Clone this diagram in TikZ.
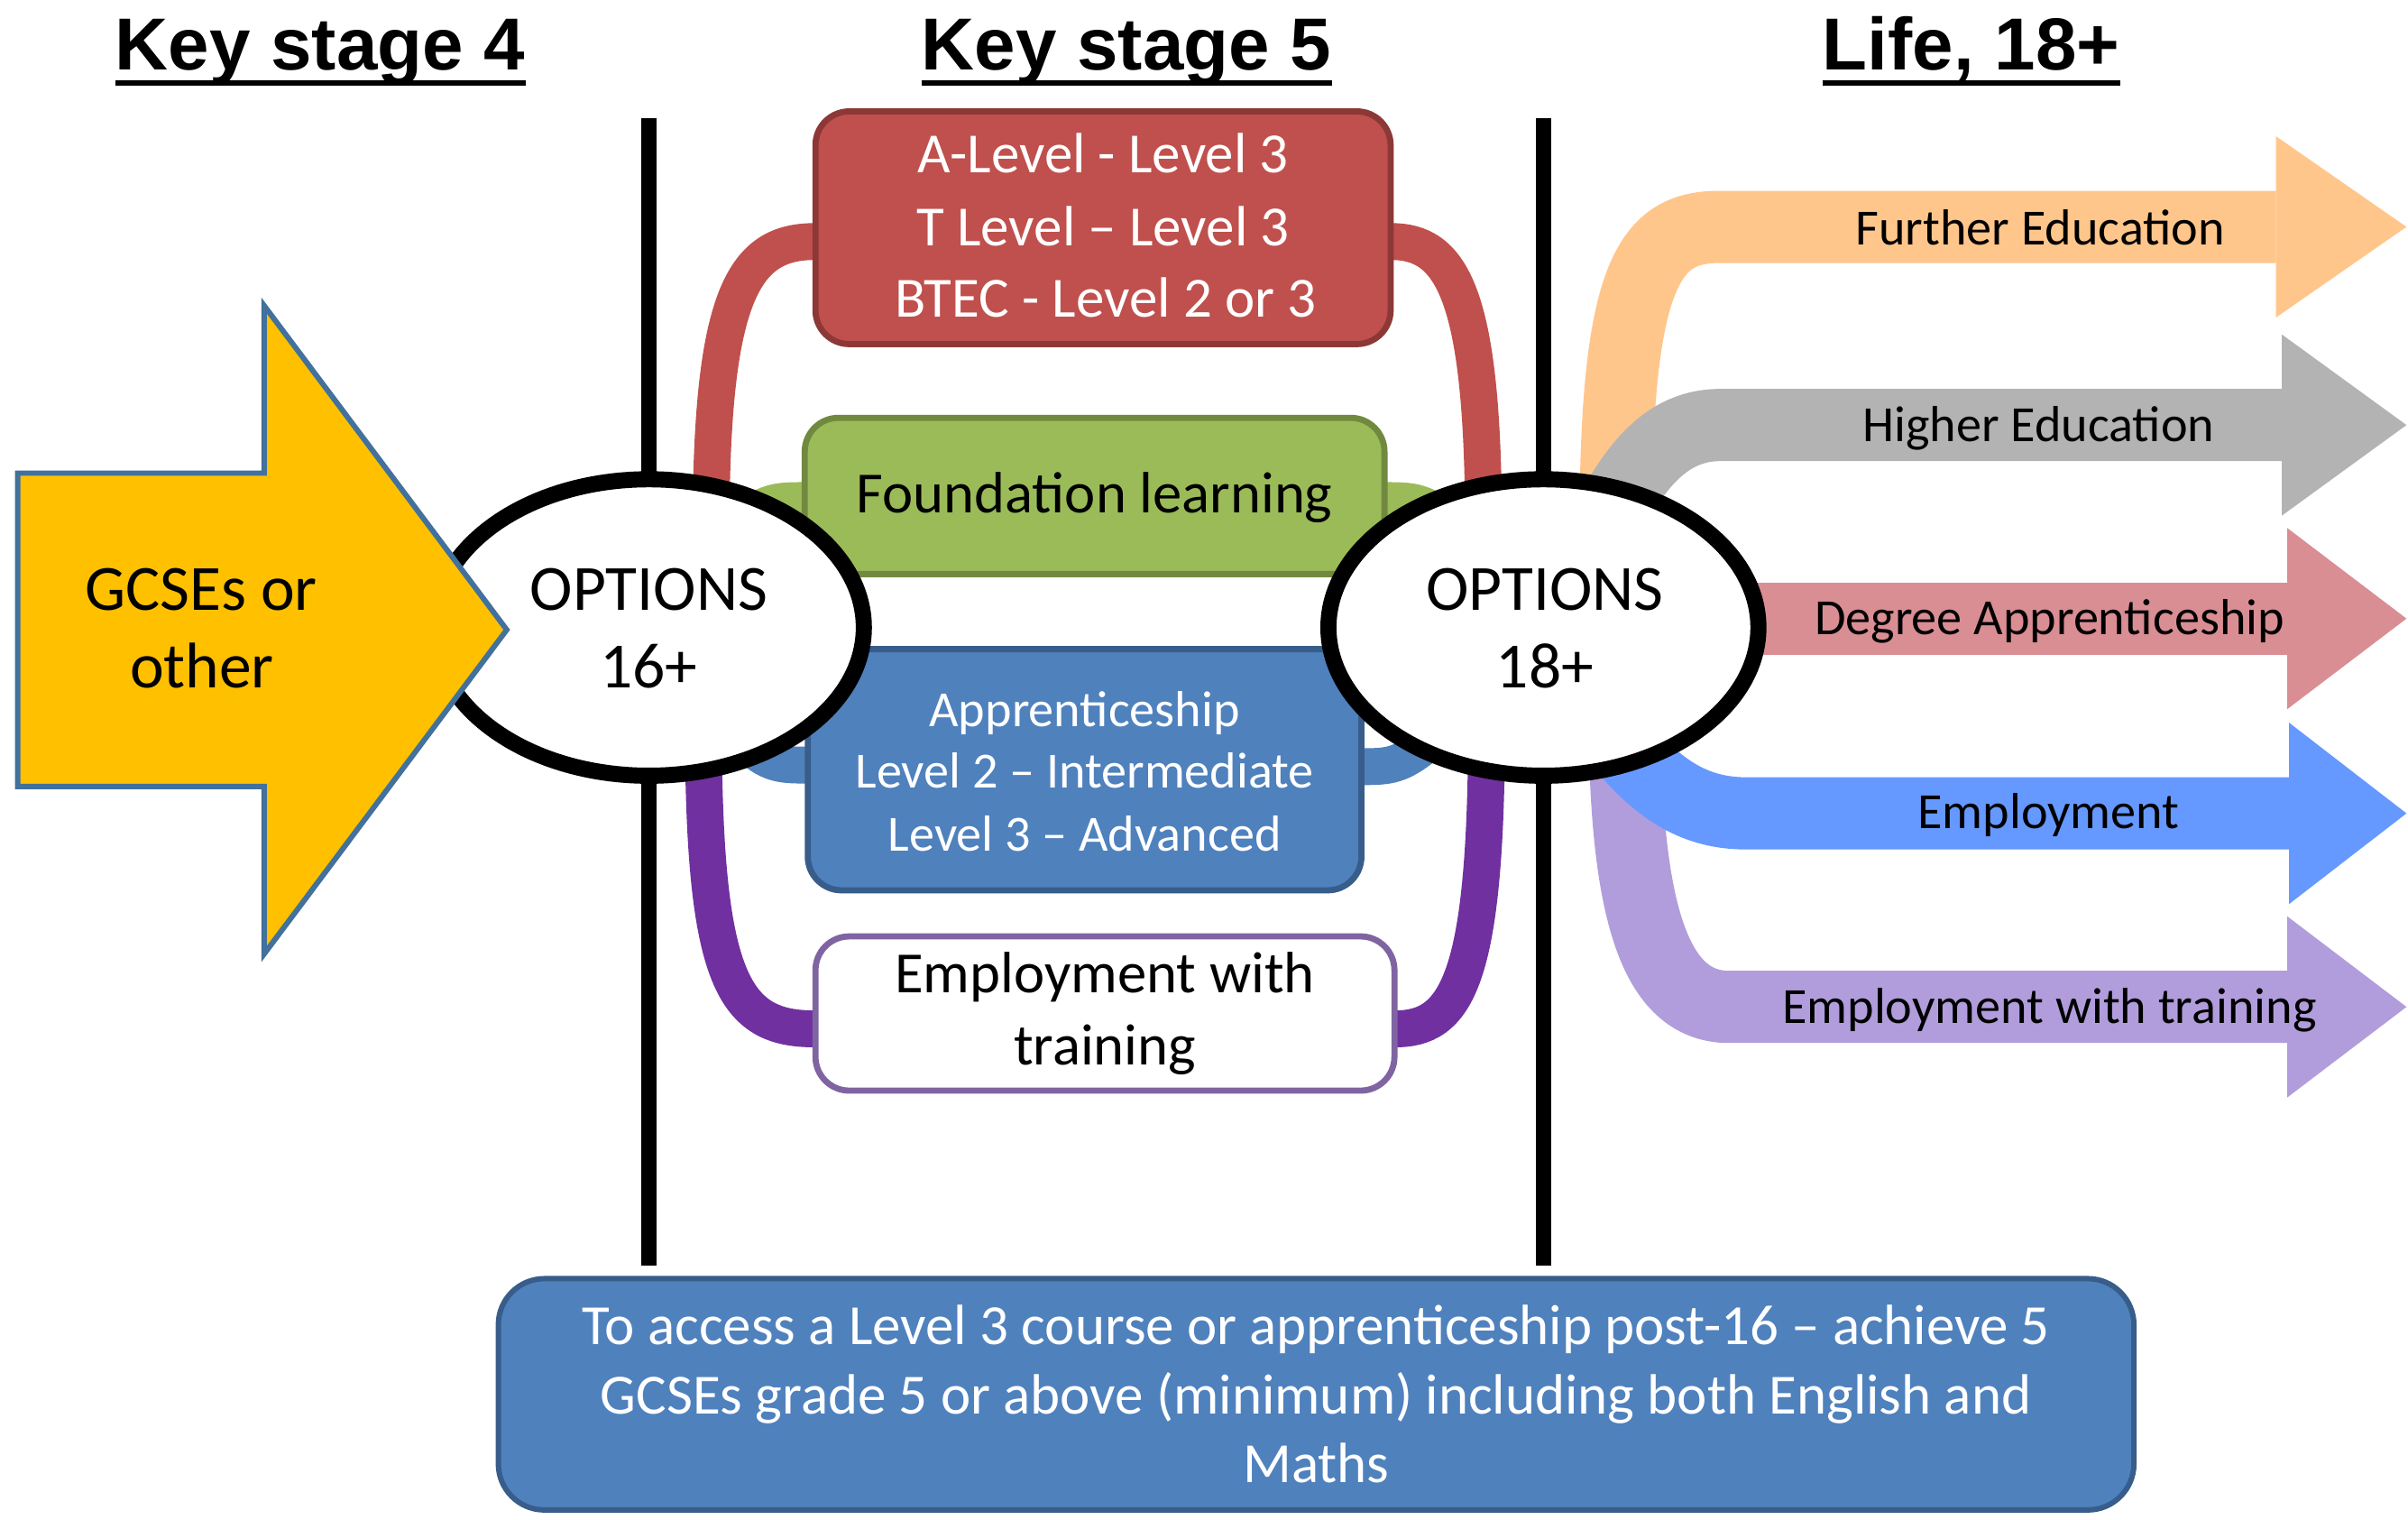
\documentclass[tikz,border=0pt]{standalone}
\usepackage{fontspec}
\setmainfont{Carlito}
\newfontfamily\headfont{Liberation Sans}
\usetikzlibrary{shapes.geometric,calc}
\definecolor{ylw}{HTML}{FFC000}
\definecolor{ylwb}{HTML}{41719C}
\definecolor{redf}{HTML}{C0504D}
\definecolor{redb}{HTML}{8C3836}
\definecolor{grnf}{HTML}{9BBB59}
\definecolor{grnb}{HTML}{71893F}
\definecolor{bluf}{HTML}{4F81BD}
\definecolor{blub}{HTML}{385D8A}
\definecolor{purb}{HTML}{8064A2}
\definecolor{purc}{HTML}{7030A0}
\definecolor{aorange}{HTML}{FFC68C}
\definecolor{agray}{HTML}{B3B3B3}
\definecolor{apink}{HTML}{D98E94}
\definecolor{ablue}{HTML}{6699FF}
\definecolor{alav}{HTML}{B19DDB}
\tikzset{
  boxstyle/.style={rounded corners=22pt, line width=4pt, inner sep=0pt},
  lbl/.style={inner sep=0pt, anchor=base},
  headtxt/.style={lbl, font=\headfont\bfseries\fontsize{48}{58}\selectfont},
  tA/.style={lbl, font=\fontsize{42}{50}\selectfont},
  tB/.style={lbl, font=\fontsize{38}{46}\selectfont},
  tC/.style={lbl, font=\fontsize{37}{45}\selectfont},
  tD/.style={lbl, font=\fontsize{33}{40}\selectfont},
  conn/.style={line width=24pt},
  band/.style={line width=47pt},
  divider/.style={line width=10pt, black},
  uline/.style={line width=4pt, black},
  optstyle/.style={ellipse, draw=black, fill=white, line width=10.5pt,
    minimum width=280pt, minimum height=193pt, inner sep=0pt}
}
\begin{document}
\begin{tikzpicture}[x=1pt,y=-1pt]
\useasboundingbox (0,0) rectangle (1568,989);
\fill[white] (0,0) rectangle (1568,989);

% dividers
\coordinate (dLt) at (422.5,77); \coordinate (dLb) at (422.5,824);
\coordinate (dRt) at (1005,77); \coordinate (dRb) at (1005,824);
\draw[divider] (dLt) -- (dLb);
\draw[divider] (dRt) -- (dRb);

% centres of the two option ellipses (drawn later, on top)
\coordinate (opt16c) at (422.5,408.5);
\coordinate (opt18c) at (1005,408.5);

% box nodes (outlines drawn after the connectors)
\node[boxstyle, minimum width=370.5pt, minimum height=147.5pt] (redbox) at (718.25,148.25) {};
\node[boxstyle, minimum width=373.5pt, minimum height=97.7pt] (greenbox) at (712.75,322.85) {};
\node[boxstyle, minimum width=356.5pt, minimum height=153pt] (bluebox) at (706.25,501.1) {};
\node[boxstyle, minimum width=373pt, minimum height=96.4pt] (purplebox) at (719.5,659.8) {};

% connectors
\draw[conn, redf] ($(opt16c)+(40.5,-63.5)$) .. controls (463,190) and (485,157) .. ([yshift=-9pt]redbox.west);
\draw[conn, redf] ([yshift=-9pt]redbox.east) .. controls (945,157) and (966,190) .. ($(opt18c)+(-39,-63.5)$);
\draw[conn, purc] ($(opt16c)+(35.5,61.5)$) .. controls (458,640) and (478,670) .. ([yshift=-10pt]purplebox.west);
\draw[conn, purc] ([yshift=-10pt]purplebox.east) .. controls (948,670) and (968,640) .. ($(opt18c)+(-37,61.5)$);
\draw[conn, grnf] ([yshift=-3pt]greenbox.west) .. controls (492,326) .. (opt16c);
\draw[conn, grnf] ([yshift=-3pt]greenbox.east) .. controls (934,326) .. (opt18c);
\draw[conn, bluf] ([yshift=3pt]bluebox.west) .. controls (494,498) .. (opt16c);
\draw[conn, bluf] ([yshift=2pt]bluebox.east) .. controls (918,499) .. (opt18c);

% boxes
\draw[boxstyle, fill=redf, draw=redb] (redbox.south west) rectangle (redbox.north east);
\draw[boxstyle, fill=grnf, draw=grnb] (greenbox.south west) rectangle (greenbox.north east);
\draw[boxstyle, fill=bluf, draw=blub] (bluebox.south west) rectangle (bluebox.north east);
\draw[boxstyle, fill=white, draw=purb] (purplebox.south west) rectangle (purplebox.north east);
\node[boxstyle, rounded corners=30pt, line width=3.5pt, fill=bluf, draw=blub,
  minimum width=1065pt, minimum height=150.6pt] (bottombox) at (857,907.7) {};

% right arrows
\coordinate (feS) at ($(opt18c)+(47,-63.5)$);
\coordinate (feB) at (1482,147.7); \coordinate (feT) at (1567,147.7);
\draw[band, aorange] (feS) .. controls (1052,175) and (1075,147.7) .. (1120,147.7) -- (feB);
\fill[aorange] (1482,88.7) -- (feT) -- (1482,206.7) -- cycle;

\coordinate (heS) at ($(opt18c)+(25,-33.5)$);
\coordinate (heB) at (1485.8,276.7); \coordinate (heT) at (1567,276.7);
\draw[band, agray] (heS) .. controls (1056,312) and (1080,276.7) .. (1120,276.7) -- (heB);
\fill[agray] (1485.8,217.7) -- (heT) -- (1485.8,335.7) -- cycle;

\coordinate (daS) at ($(opt18c)+(0,-5.8)$);
\coordinate (daB) at (1489.3,402.7); \coordinate (daT) at (1567,402.7);
\draw[band, apink] (daS) -- (daB);
\fill[apink] (1489.3,343.7) -- (daT) -- (1489.3,461.7) -- cycle;

\coordinate (ewS) at ($(opt18c)+(53,71.5)$);
\coordinate (ewB) at (1489.3,655.5); \coordinate (ewT) at (1567,655.5);
\draw[band, alav] (ewS) .. controls (1060,600) and (1080,655.5) .. (1126,655.5) -- (ewB);
\fill[alav] (1489.3,596.5) -- (ewT) -- (1489.3,714.5) -- cycle;

\coordinate (emS) at ($(opt18c)+(35,56.5)$);
\coordinate (emB) at (1490.6,529.5); \coordinate (emT) at (1567,529.5);
\draw[band, ablue] (emS) .. controls (1070,505) and (1095,529.5) .. (1137,529.5) -- (emB);
\fill[ablue] (1490.6,470.5) -- (emT) -- (1490.6,588.5) -- cycle;

% ellipses
\node[optstyle] (opt16) at (opt16c) {};
\node[optstyle] (opt18) at (opt18c) {};

% yellow arrow
\draw[fill=ylw, draw=ylwb, line width=3.5pt, line join=miter]
  (11.5,308) -- (172,308) -- (172,199) -- (330,410) -- (172,621) -- (172,512) -- (11.5,512) -- cycle;

% headings
\node[headtxt] (h1) at (208.5,45.8) {Key stage 4};
\node[headtxt] (h2) at (733.5,45.8) {Key stage 5};
\node[headtxt] (h3) at (1283.5,45.8) {Life, 18+};
\foreach \h in {h1,h2,h3}
  \draw[uline] ($(\h.base west)+(0,8.2)$) -- ($(\h.base east)+(0,8.2)$);

% texts
\node[tA] (g1) at (131,397) {GCSEs or};
\node[tA] (g2) at (131.5,448) {other};
\node[tA] (o1) at (422.5,397) {OPTIONS};
\node[tA] (o2) at (422.5,448) {16+};
\node[tA] (o3) at (1006,397) {OPTIONS};
\node[tA] (o4) at (1006,448) {18+};

\node[tC, text=white] (r1) at (718.25,112.6) {A-Level - Level 3};
\node[tC, text=white] (r2) at (718.25,160) {T Level – Level 3};
\node[tC, text=white] (r3) at (720,206.6) {BTEC - Level 2 or 3};

\node[tB] (f1) at (712.75,334) {Foundation learning};

\node[tD, text=white] (a1) at (706.25,473) {Apprenticeship};
\node[tD, text=white] (a2) at (706.25,513) {Level 2 – Intermediate};
\node[tD, text=white] (a3) at (706.25,553.8) {Level 3 – Advanced};

\node[tB] (e1) at (719.5,646) {Employment with};
\node[tB] (e2) at (719.5,693) {training};

\node[tC, text=white] (b1) at (857,875.5) {To access a Level 3 course or apprenticeship post-16 – achieve 5};
\node[tC, text=white] (b2) at (857,920.3) {GCSEs grade 5 or above (minimum) including both English and};
\node[tC, text=white] (b3) at (857,965) {Maths};

\node[tD] (l1) at (1328.5,159.2) {Further Education};
\node[tD] (l2) at (1327.5,287.6) {Higher Education};
\node[tD] (l3) at (1334.5,413) {Degree Apprenticeship};
\node[tD] (l4) at (1334,539.6) {Employment};
\node[tD] (l5) at (1334.5,666.3) {Employment with training};
\end{tikzpicture}
\end{document}
